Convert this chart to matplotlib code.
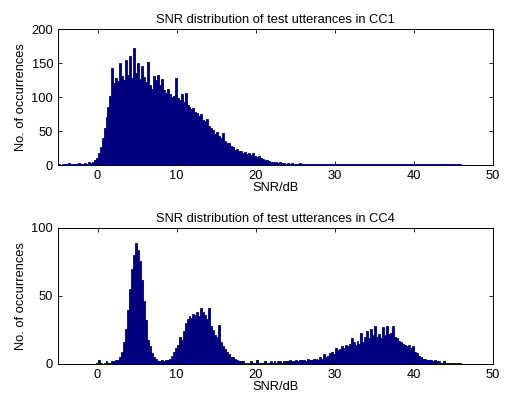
import numpy as np
import matplotlib
matplotlib.use("Agg")
import matplotlib.pyplot as plt

plt.rcParams["font.family"] = ["Liberation Sans", "DejaVu Sans"]
plt.rcParams["font.size"] = 9.3

# bins of 0.25 dB, from -5 to 47 dB
bin_start = -5.0
bin_width = 0.25

cc1_counts = [
    1, 0, 2, 1, 1, 3, 1, 2, 2, 1, 3, 2, 2, 3, 2, 4, 3, 5, 7, 11,
    18, 27, 40, 55, 70, 86, 102, 143, 120, 128, 124, 150, 131, 125, 155, 133, 160, 128, 172, 135,
    150, 127, 145, 130, 122, 151, 118, 112, 131, 125, 132, 118, 127, 110, 106, 112, 104, 100, 102, 128,
    98, 96, 105, 92, 106, 88, 85, 82, 84, 78, 76, 72, 75, 66, 64, 68, 58, 55, 52, 46,
    49, 42, 40, 47, 36, 33, 32, 28, 26, 22, 23, 20, 21, 18, 19, 16, 17, 15, 17, 13,
    12, 13, 10, 9, 7, 8, 6, 5, 5, 4, 5, 3, 4, 3, 3, 2, 3, 2, 3, 2,
    2, 2, 3, 1, 2, 2, 1, 2, 2, 1, 2, 1, 2, 1, 1, 2, 1, 1, 2, 1,
    1, 1, 2, 1, 1, 1, 1, 2, 1, 1, 1, 1, 1, 2, 1, 1, 1, 1, 1, 1,
    1, 1, 1, 1, 2, 1, 1, 1, 1, 1, 1, 1, 1, 1, 1, 2, 1, 1, 1, 1,
    1, 1, 1, 1, 1, 1, 1, 1, 2, 1, 1, 1, 1, 1, 1, 1, 1, 1, 1, 1,
    1, 1, 1, 1, 0, 0, 0, 0,
]

cc4_counts = [
    0, 0, 0, 0, 0, 0, 0, 0, 0, 0, 0, 0, 0, 0, 0, 0, 0, 0, 0, 1,
    3, 1, 0, 1, 2, 1, 1, 2,
    2, 3, 3, 5, 9, 16, 26, 40, 55, 70, 80, 89, 84, 76, 62, 46, 32, 18, 13, 8, 5, 4, 2, 2,
    3, 2, 3, 3, 4, 6, 9, 12,
    14, 20, 18, 24, 30, 33, 35, 34, 37, 36, 38, 35, 41, 38, 36, 33, 41, 28, 25, 21,
    20, 29, 16, 13, 11, 9, 7, 5, 5, 4, 3, 2, 2, 2, 1, 1, 1, 2, 1, 1,
    3, 1, 1, 1, 2, 1, 1, 2, 1, 2, 1, 2, 2, 1, 2, 2, 2, 3, 2, 2,
    3, 2, 3, 3, 3, 2, 4, 3, 3, 4, 4, 3, 5, 4, 7, 5, 6, 8, 9, 7,
    12, 10, 11, 13, 12, 14, 13, 15, 19, 16, 14, 17, 15, 23, 16, 20, 24, 19, 26, 21,
    28, 20, 22, 19, 27, 21, 28, 22, 23, 28, 20, 19, 17, 16, 15, 14, 13, 14, 12, 13,
    9, 8, 6, 5, 4, 4, 3, 3, 3, 2, 3, 2, 2, 1, 1, 2, 1, 1, 1, 1,
    1, 1, 1, 1, 0, 0, 0, 0,
]

titles = ["SNR distribution of test utterances in CC1",
          "SNR distribution of test utterances in CC4"]
y_limits = [200, 100]
y_ticks = [[0, 50, 100, 150, 200], [0, 50, 100]]
x_ticks = [0, 10, 20, 30, 40, 50]

fig = plt.figure(figsize=(5.05, 4.0), dpi=100)
ax1 = fig.add_axes([0.115, 0.5875, 0.861, 0.34])
ax2 = fig.add_axes([0.115, 0.09, 0.861, 0.34])

for ax, counts, title, ylim, yt in zip([ax1, ax2], [cc1_counts, cc4_counts],
                                       titles, y_limits, y_ticks):
    lefts = bin_start + bin_width * np.arange(len(counts))
    ax.bar(lefts, counts, width=bin_width, align="edge",
           color="#000080", edgecolor="#000080", linewidth=0.6)
    ax.set_xlim(-5, 50)
    ax.set_ylim(0, ylim)
    ax.set_xticks(x_ticks)
    ax.set_yticks(yt)
    ax.tick_params(direction="in", top=True, right=True, length=3, width=0.6)
    for s in ax.spines.values():
        s.set_linewidth(0.7)
    ax.set_title(title, fontsize=9.3, pad=4)
    ax.set_xlabel("SNR/dB", labelpad=0)
    ax.set_ylabel("No. of occurrences", labelpad=3)

fig.savefig("out.png", dpi=100)
